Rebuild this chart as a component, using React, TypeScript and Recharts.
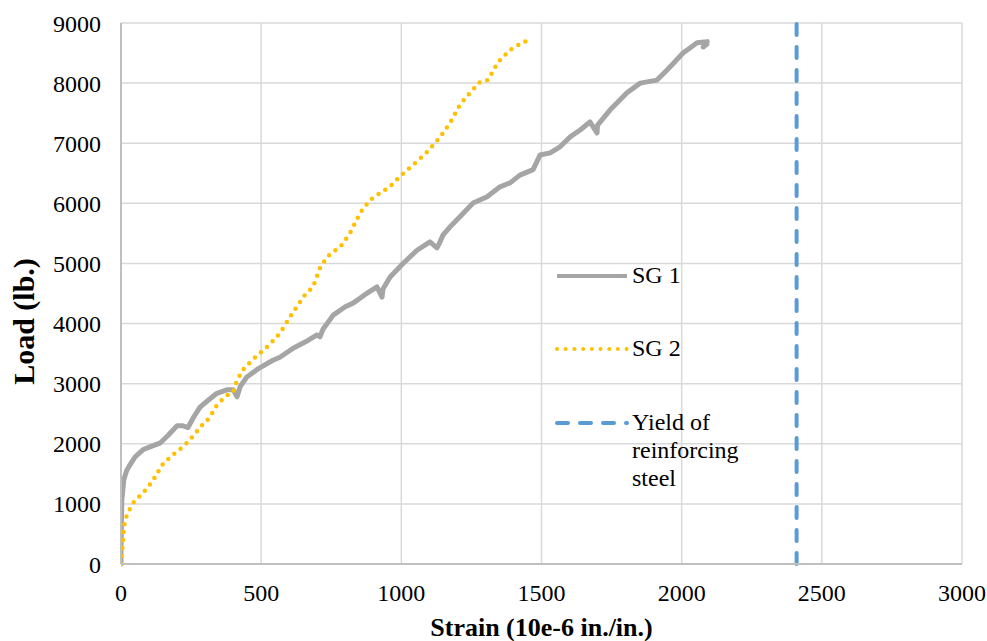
import { LineChart, Line, XAxis, YAxis, CartesianGrid, Legend } from "recharts";

// Strain (10e-6 in./in.) vs load (lb.)
const sg1Strain = [
  0, 0, 1, 3, 10, 20, 32, 50, 78, 110, 139, 170, 200, 220, 239, 260, 282, 310, 342, 380, 400, 414, 425, 449,
  490, 542, 567, 614, 660, 699, 710, 720, 757, 800, 828, 870, 913, 931, 935, 960, 1006, 1056, 1102, 1127, 1135,
  1149, 1174, 1209, 1256, 1306, 1352, 1388, 1423, 1470, 1495, 1531, 1566, 1602, 1638, 1673, 1698, 1700, 1745,
  1805, 1852, 1912, 1948, 2005, 2055, 2091, 2077, 2090,
];
const sg1Load = [
  0, 300, 565, 1065, 1400, 1550, 1650, 1780, 1900, 1960, 2010, 2150, 2300, 2300, 2270, 2450, 2610, 2720, 2840,
  2900, 2900, 2780, 2950, 3110, 3250, 3390, 3440, 3590, 3700, 3810, 3780, 3900, 4140, 4280, 4340, 4480, 4610,
  4440, 4580, 4775, 5000, 5220, 5360, 5260, 5330, 5475, 5610, 5775, 6005, 6110, 6275, 6340, 6470, 6560, 6805,
  6840, 6940, 7105, 7220, 7355, 7170, 7300, 7555, 7840, 8000, 8050, 8220, 8500, 8670, 8690, 8600, 8650,
];

const sg2Strain = [
  0, 2, 3, 5, 7, 10, 14, 20, 25, 35, 43, 60, 78, 100, 114, 130, 139, 160, 175, 200, 221, 246, 270, 282, 300,
  318, 342, 365, 389, 400, 414, 435, 465, 496, 530, 567, 603, 630, 656, 685, 710, 735, 760, 788, 817, 853, 888,
  924, 960, 995, 1049, 1092, 1120, 1149, 1174, 1209, 1245, 1281, 1309, 1345, 1388, 1420, 1445,
];
const sg2Load = [
  0, 100, 200, 280, 400, 615, 700, 800, 850, 950, 1015, 1100, 1180, 1300, 1400, 1500, 1615, 1700, 1780, 1870,
  1950, 2065, 2200, 2280, 2350, 2450, 2645, 2750, 2845, 2860, 3060, 3230, 3380, 3510, 3650, 3840, 4110, 4300,
  4475, 4610, 4925, 5110, 5200, 5310, 5505, 5840, 6055, 6170, 6280, 6450, 6670, 6855, 7000, 7170, 7340, 7640,
  7840, 8020, 8050, 8350, 8550, 8640, 8700,
];

const yieldStrain = [2410, 2410];
const yieldLoad = [0, 9000];

const xTicks = [0, 500, 1000, 1500, 2000, 2500, 3000];
const yTicks = [0, 1000, 2000, 3000, 4000, 5000, 6000, 7000, 8000, 9000];

const toPoints = (xs: number[], ys: number[]) => xs.map((x, i) => ({ x, y: ys[i] }));

const FONT = "Liberation Serif, Times New Roman, DejaVu Serif, Noto Serif, serif";

const legendItems = [
  { label: ["SG 1"], stroke: "#A5A5A5", dash: undefined as string | undefined, cap: "butt" },
  { label: ["SG 2"], stroke: "#FFC000", dash: "0 8.7", cap: "round" },
  { label: ["Yield of", "reinforcing", "steel"], stroke: "#5B9BD5", dash: "11 12", cap: "round" },
];

function LegendBox() {
  return (
    <div style={{ fontFamily: FONT, fontSize: 24, color: "#000", lineHeight: "28px" }}>
      {legendItems.map((it, i) => (
        <div key={i} style={{ display: "flex", alignItems: "flex-start", marginBottom: i === 0 ? 45 : 46 }}>
          <svg width={79} height={28} style={{ flex: "none" }}>
            <line
              x1={4}
              x2={74}
              y1={15}
              y2={15}
              stroke={it.stroke}
              strokeWidth={4}
              strokeDasharray={it.dash}
              strokeLinecap={it.cap as "butt" | "round"}
            />
          </svg>
          <div>
            {it.label.map((l) => (
              <div key={l}>{l}</div>
            ))}
          </div>
        </div>
      ))}
    </div>
  );
}

function YTitle(props: any) {
  const vb = props.viewBox || { x: 0, y: 0, width: 0, height: 0 };
  const cx = vb.x + 23;
  const cy = vb.y + vb.height / 2 + 28;
  return (
    <text
      x={cx}
      y={cy}
      transform={`rotate(-90 ${cx} ${cy})`}
      textAnchor="middle"
      dominantBaseline="central"
      style={{ fontFamily: FONT }}
      fontSize={30}
      fontWeight="bold"
      fill="#000"
    >
      Load (lb.)
    </text>
  );
}

export default function App() {
  return (
    <div style={{ position: "absolute", left: 0, top: 0, width: 987, height: 641, background: "#fff", fontFamily: FONT }}>
      <LineChart width={987} height={641} margin={{ top: 23, right: 25, bottom: 0, left: 0 }} style={{ fontFamily: FONT }}>
        <CartesianGrid stroke="#d9d9d9" strokeWidth={1.5} />
        <XAxis
          type="number"
          dataKey="x"
          domain={[0, 3000]}
          ticks={xTicks}
          height={77}
          tickLine={false}
          tickSize={0}
          tickMargin={20}
          axisLine={{ stroke: "#bfbfbf", strokeWidth: 2 }}
          tick={{ fill: "#000", fontSize: 24, style: { fontFamily: FONT } }}
          allowDataOverflow
          label={{
            value: "Strain (10e-6 in./in.)",
            position: "insideBottom",
            offset: 5,
            fill: "#000",
            fontSize: 26,
            fontWeight: "bold",
            style: { fontFamily: FONT },
          }}
        />
        <YAxis
          type="number"
          dataKey="y"
          domain={[0, 9000]}
          ticks={yTicks}
          width={121}
          tickLine={false}
          tickSize={0}
          tickMargin={20}
          axisLine={{ stroke: "#bfbfbf", strokeWidth: 2 }}
          tick={{ fill: "#000", fontSize: 24, style: { fontFamily: FONT } }}
          label={{ content: YTitle }}
        />
        <Legend
          layout="vertical"
          align="center"
          verticalAlign="middle"
          content={() => <LegendBox />}
          wrapperStyle={{ position: "absolute", left: 553, top: 261, width: 220 }}
        />
        <Line
          data={toPoints(sg1Strain, sg1Load)}
          dataKey="y"
          type="linear"
          stroke="#A5A5A5"
          strokeWidth={5}
          strokeLinejoin="round"
          strokeLinecap="round"
          dot={false}
          isAnimationActive={false}
        />
        <Line
          data={toPoints(sg2Strain, sg2Load)}
          dataKey="y"
          type="linear"
          stroke="#FFC000"
          strokeWidth={4.5}
          strokeDasharray="0 8"
          strokeLinecap="round"
          dot={false}
          isAnimationActive={false}
        />
        <Line
          data={toPoints(yieldStrain, yieldLoad)}
          dataKey="y"
          type="linear"
          stroke="#5B9BD5"
          strokeWidth={4}
          strokeDasharray="11 12"
          strokeLinecap="round"
          dot={false}
          isAnimationActive={false}
        />
      </LineChart>
    </div>
  );
}
